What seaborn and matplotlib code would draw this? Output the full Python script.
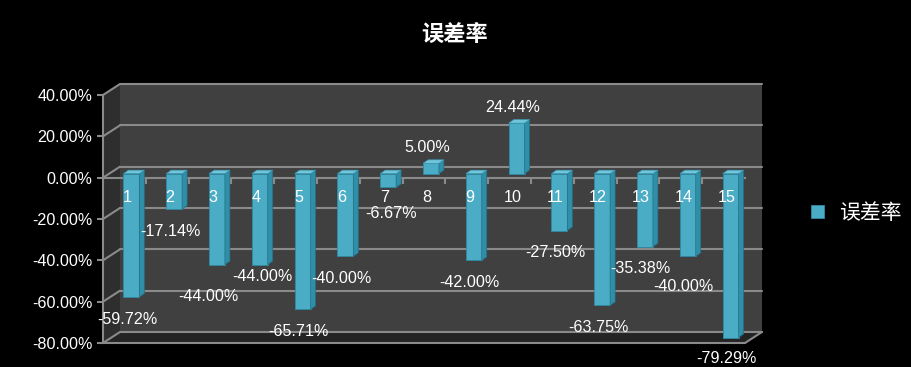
import matplotlib
matplotlib.use("Agg")
import matplotlib.pyplot as plt
import matplotlib.transforms as mtransforms
from matplotlib.patches import Polygon, Rectangle
import seaborn as sns
import numpy as np
import pandas as pd

categories = [str(i) for i in range(1, 16)]
error_rate = [-59.72, -17.14, -44.00, -44.00, -65.71, -40.00, -6.67, 5.00,
              -42.00, 24.44, -27.50, -63.75, -35.38, -40.00, -79.29]
series_name = "误差率"
y_ticks = [-80, -60, -40, -20, 0, 20, 40]

df = pd.DataFrame({"cat": categories, series_name: error_rate})

sns.set_style("dark")
plt.rcParams['font.family'] = ['Liberation Sans', 'Noto Sans CJK SC', 'DejaVu Sans']

bar_color = "#4bacc6"
grid_color = "#8a8a8a"
text_size = 11.6

fig = plt.figure(figsize=(9.12, 3.67), dpi=100, facecolor="black")
ax = fig.add_axes([103 / 912, 1 - 343 / 367, (745 - 103) / 912, (343 - 95) / 367])
ax.set_facecolor("none")
ax.grid(False)

sns.barplot(data=df, x="cat", y=series_name, color=bar_color, saturation=1,
            width=0.37, ax=ax, label=series_name, zorder=5,
            edgecolor="#2f8aa3", linewidth=0.6)
bars = list(ax.patches)
ax.set_xlim(-0.5, 14.5)
ax.set_ylim(-80, 40)

# pseudo 3D depth of the chart walls, in pixels
wall_dx, wall_dy = 17, 11
bar_dx, bar_dy = 7, 4
face_dx, face_dy = 5, 3.5
ax_w = ax.bbox.width
ax_h = ax.bbox.height
wx, wy = wall_dx / ax_w, wall_dy / ax_h

back = ax.transAxes + mtransforms.ScaledTranslation(wall_dx / 100, wall_dy / 100, fig.dpi_scale_trans)
ax.add_patch(Rectangle((0, 0), 1, 1, transform=back, facecolor="#404040",
                       edgecolor="none", zorder=0, clip_on=False))
ax.add_patch(Polygon([(0, 0), (0, 1), (wx, 1 + wy), (wx, wy)], closed=True,
                     transform=ax.transAxes, facecolor="#2e2e2e", edgecolor="none",
                     zorder=0.5, clip_on=False))
ax.add_patch(Polygon([(0, 0), (1, 0), (1 + wx, wy), (wx, wy)], closed=True,
                     transform=ax.transAxes, facecolor="#242424", edgecolor="none",
                     zorder=0.5, clip_on=False))
for t in y_ticks:
    fy = (t - (-80)) / 120
    ax.plot([0, 1], [fy, fy], transform=back, color=grid_color, lw=1.5,
            zorder=1, clip_on=False)
    ax.plot([0, wx], [fy, fy + wy], transform=ax.transAxes, color=grid_color,
            lw=1.5, zorder=1, clip_on=False)
ax.plot([1, 1 + wx], [0, wy], transform=ax.transAxes, color=grid_color, lw=1.5,
        zorder=1, clip_on=False)
ax.axhline(-80, color=grid_color, lw=1.5, zorder=2, clip_on=False)

# bars: shift front faces back a little and add side/top faces
px_x = ax_w / 15
px_y = ax_h / 120
bar_shift = ax.transData + mtransforms.ScaledTranslation(bar_dx / 100, bar_dy / 100, fig.dpi_scale_trans)
fdx, fdy = face_dx / px_x, face_dy / px_y
for p in bars:
    x0, w, h = p.get_x(), p.get_width(), p.get_height()
    y0 = p.get_y()
    p.set_transform(bar_shift)
    p.set_clip_on(False)
    ylo, yhi = min(y0, y0 + h), max(y0, y0 + h)
    side = Polygon([(x0 + w, ylo), (x0 + w, yhi), (x0 + w + fdx, yhi + fdy), (x0 + w + fdx, ylo + fdy)],
                   closed=True, transform=bar_shift, facecolor="#2f8fa9",
                   edgecolor="#256f85", lw=0.5, zorder=5, clip_on=False)
    top = Polygon([(x0, yhi), (x0 + w, yhi), (x0 + w + fdx, yhi + fdy), (x0 + fdx, yhi + fdy)],
                  closed=True, transform=bar_shift, facecolor="#72c6dc",
                  edgecolor="#3a9bb5", lw=0.5, zorder=5, clip_on=False)
    ax.add_patch(side)
    ax.add_patch(top)

# value labels (a few are nudged to avoid overlaps, as the original does)
label_nudge = {2: (-3, -7), 3: (5, 7), 6: (5, -3), 13: (0, -6), 14: (0, 1)}
for i, v in enumerate(error_rate):
    ndx, ndy = label_nudge.get(i, (0, 0))
    ax.annotate(f"{v:.2f}%", xy=(i, v), xytext=(2 + ndx, (-13 if v < 0 else 14) + ndy),
                textcoords="offset points", ha="center", va="center",
                color="white", fontsize=text_size, zorder=6, annotation_clip=False)

# axes styling
for s in ["top", "right"]:
    ax.spines[s].set_visible(False)
ax.spines["left"].set_color(grid_color)
ax.spines["left"].set_linewidth(1.5)
ax.spines["bottom"].set_position(("data", 0))
ax.spines["bottom"].set_color(grid_color)
ax.spines["bottom"].set_linewidth(1.5)
ax.spines["bottom"].set_zorder(3)
ax.set_yticks(y_ticks)
ax.set_yticklabels([f"{t:.2f}%" for t in y_ticks])
ax.tick_params(axis="y", colors=grid_color, labelcolor="white", labelsize=text_size,
               length=4, width=1.5, direction="out", left=True)
ax.set_xticks(range(len(categories)))
ax.set_xticks(np.arange(0.5, 14, 1), minor=True)
ax.set_xticklabels(categories)
ax.tick_params(axis="x", which="major", length=0, pad=9, labelcolor="white",
               labelsize=text_size)
ax.tick_params(axis="x", which="minor", length=4, width=1.5, colors=grid_color,
               direction="out", bottom=True)
ax.xaxis.set_zorder(7)
for lab in ax.get_xticklabels():
    lab.set_transform(lab.get_transform() + mtransforms.ScaledTranslation(3 / 100, 0, fig.dpi_scale_trans))
ax.set_xlabel("")
ax.set_ylabel("")

leg = ax.legend(loc="center left", bbox_to_anchor=(1.074, 0.524), frameon=False,
                fontsize=15, handlelength=0.6, handleheight=0.6, handletextpad=0.75)
for txt in leg.get_texts():
    txt.set_color("white")

fig.suptitle("误差率", x=0.499, y=1 - 35 / 367, va="center", color="white",
             fontsize=16, fontweight="bold")

fig.savefig("out.png", dpi=100, facecolor="black")
